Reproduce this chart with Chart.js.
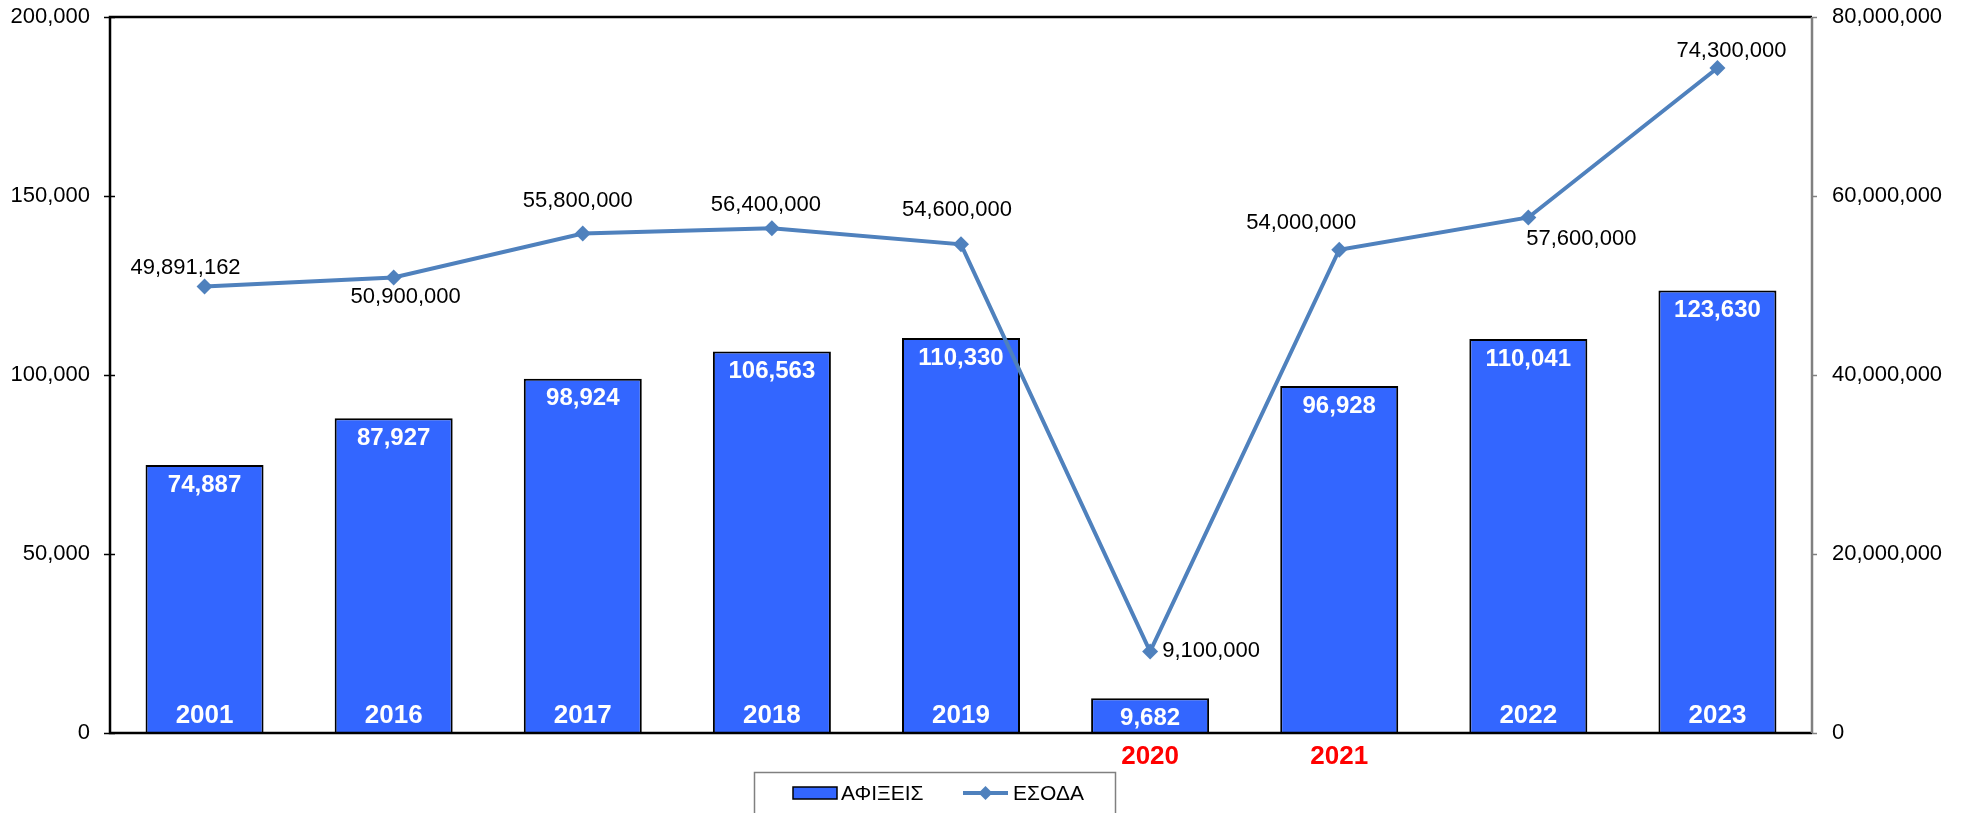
<!DOCTYPE html>
<html>
<head>
<meta charset="utf-8">
<script src="https://cdn.jsdelivr.net/npm/chart.js@4/dist/chart.umd.min.js"></script>
<style>
  body { margin: 0; background: #fff; }
  #wrap { width: 1971px; height: 813px; }
</style>
</head>
<body>
<div id="wrap"><canvas id="chart" width="1971" height="813"></canvas></div>
<script>
const years = ['2001', '2016', '2017', '2018', '2019', '2020', '2021', '2022', '2023'];
const arrivals = [74887, 87927, 98924, 106563, 110330, 9682, 96928, 110041, 123630];
const revenue = [49891162, 50900000, 55800000, 56400000, 54600000, 9100000, 54000000, 57600000, 74300000];
// years whose label sits in red under the axis instead of inside the bar
const redYears = ['2020', '2021'];

const FONT = 'Arial, "Liberation Sans", sans-serif';
const BAR_COLOR = '#3366FF';
const LINE_COLOR = '#4F81BD';

// where each revenue label sits relative to its point (centre of text)
const lineLabelOffsets = [[-19, -19], [12, 19], [-5, -33], [-6, -23], [-4, -34], [61, -1], [-38, -27], [53, 21], [14, -17]];

const fmt = v => Number(v).toLocaleString('en-US');

const frame = {
    id: 'frame',
    beforeDatasetsDraw(chart) {
        const { ctx, chartArea: a } = chart;
        const yL = chart.scales.y, yR = chart.scales.y1;
        ctx.save();
        // left ticks (cross the axis)
        ctx.strokeStyle = '#000';
        ctx.lineWidth = 1.5;
        yL.ticks.forEach((t, i) => {
            const py = Math.round(yL.getPixelForTick(i)) + 0.5;
            ctx.beginPath();
            ctx.moveTo(a.left - 6, py);
            ctx.lineTo(a.left + 5, py);
            ctx.stroke();
        });
        // right ticks (outside, grey)
        ctx.strokeStyle = '#808080';
        yR.ticks.forEach((t, i) => {
            const py = Math.round(yR.getPixelForTick(i)) + 0.5;
            ctx.beginPath();
            ctx.moveTo(a.right, py);
            ctx.lineTo(a.right + 5, py);
            ctx.stroke();
        });
        ctx.restore();
    },
    afterDatasetsDraw(chart) {
        const { ctx, chartArea: a } = chart;
        ctx.save();
        ctx.lineWidth = 2.5;
        ctx.strokeStyle = '#000';
        ctx.beginPath();
        ctx.moveTo(a.right, a.top);
        ctx.lineTo(a.left, a.top);
        ctx.lineTo(a.left, a.bottom);
        ctx.lineTo(a.right, a.bottom);
        ctx.stroke();
        ctx.strokeStyle = '#808080';
        ctx.beginPath();
        ctx.moveTo(a.right, a.top);
        ctx.lineTo(a.right, a.bottom);
        ctx.stroke();
        ctx.restore();
    }
};

const labels = {
    id: 'labels',
    afterDatasetsDraw(chart) {
        const { ctx, chartArea: a } = chart;
        const bars = chart.getDatasetMeta(1).data;
        const pts = chart.getDatasetMeta(0).data;
        ctx.save();
        ctx.textAlign = 'center';
        ctx.textBaseline = 'middle';

        // bar values + years
        bars.forEach((bar, i) => {
            ctx.fillStyle = '#fff';
            ctx.font = 'bold 24px ' + FONT;
            ctx.fillText(fmt(arrivals[i]), bar.x, bar.y + 20);
            if (redYears.includes(years[i])) {
                ctx.fillStyle = '#FF0000';
                ctx.font = 'bold 26px ' + FONT;
                ctx.fillText(years[i], bar.x, a.bottom + 24);
            } else if (bar.y < a.bottom - 60) {
                ctx.font = 'bold 26px ' + FONT;
                ctx.fillText(years[i], bar.x, a.bottom - 17);
            }
        });

        // revenue values
        ctx.fillStyle = '#000';
        ctx.font = '22px ' + FONT;
        pts.forEach((p, i) => {
            const [dx, dy] = lineLabelOffsets[i];
            ctx.fillText(fmt(revenue[i]), p.x + dx, p.y + dy);
        });
        ctx.restore();
    }
};

const legendBox = {
    id: 'legendBox',
    afterDraw(chart) {
        const { ctx } = chart;
        ctx.save();
        ctx.strokeStyle = '#808080';
        ctx.lineWidth = 1.5;
        ctx.strokeRect(754.5, 772.5, 361, 50);

        ctx.fillStyle = BAR_COLOR;
        ctx.fillRect(793, 787, 44, 12);
        ctx.strokeStyle = '#000';
        ctx.lineWidth = 1.5;
        ctx.strokeRect(793, 787, 44, 12);

        ctx.strokeStyle = LINE_COLOR;
        ctx.lineWidth = 4;
        ctx.beginPath();
        ctx.moveTo(963, 793);
        ctx.lineTo(1008, 793);
        ctx.stroke();
        ctx.fillStyle = LINE_COLOR;
        ctx.beginPath();
        ctx.moveTo(985.5, 786);
        ctx.lineTo(992.5, 793);
        ctx.lineTo(985.5, 800);
        ctx.lineTo(978.5, 793);
        ctx.closePath();
        ctx.fill();

        ctx.fillStyle = '#000';
        ctx.font = '21px ' + FONT;
        ctx.textBaseline = 'middle';
        ctx.textAlign = 'left';
        ctx.fillText('ΑΦΙΞΕΙΣ', 841, 794);
        ctx.fillText('ΕΣΟΔΑ', 1013, 794);
        ctx.restore();
    }
};

new Chart(document.getElementById('chart'), {
    data: {
        labels: years,
        datasets: [
            {
                type: 'line',
                label: 'ΕΣΟΔΑ',
                data: revenue,
                yAxisID: 'y1',
                borderColor: LINE_COLOR,
                borderWidth: 4,
                backgroundColor: LINE_COLOR,
                pointStyle: 'rectRot',
                pointRadius: 8,
                pointBackgroundColor: LINE_COLOR,
                pointBorderWidth: 0,
                tension: 0,
                order: 0
            },
            {
                type: 'bar',
                label: 'ΑΦΙΞΕΙΣ',
                data: arrivals,
                yAxisID: 'y',
                backgroundColor: BAR_COLOR,
                borderColor: '#000',
                borderWidth: 2,
                barPercentage: 0.624,
                categoryPercentage: 1,
                order: 1
            }
        ]
    },
    options: {
        responsive: false,
        devicePixelRatio: 1,
        animation: false,
        layout: { autoPadding: false, padding: { top: 17, left: 0, right: 0, bottom: 0 } },
        plugins: {
            legend: { display: false },
            tooltip: { enabled: false }
        },
        scales: {
            x: {
                offset: true,
                grid: { display: false, drawTicks: false },
                border: { display: false },
                ticks: { display: false },
                afterFit: s => { s.height = 80; }
            },
            y: {
                position: 'left',
                min: 0,
                max: 200000,
                // tick marks are drawn by the frame plugin; tickLength only spaces the labels
                grid: { display: false, drawTicks: true, tickLength: 20 },
                border: { display: false },
                ticks: {
                    stepSize: 50000,
                    padding: 0,
                    color: '#000',
                    font: { family: FONT, size: 22 },
                    callback: v => fmt(v)
                },
                afterFit: s => { s.width = 110; }
            },
            y1: {
                position: 'right',
                min: 0,
                max: 80000000,
                grid: { display: false, drawTicks: true, tickLength: 20 },
                border: { display: false },
                ticks: {
                    stepSize: 20000000,
                    padding: 0,
                    color: '#000',
                    font: { family: FONT, size: 22 },
                    callback: v => fmt(v)
                },
                afterFit: s => { s.width = 159; }
            }
        }
    },
    plugins: [frame, labels, legendBox]
});
</script>
</body>
</html>
